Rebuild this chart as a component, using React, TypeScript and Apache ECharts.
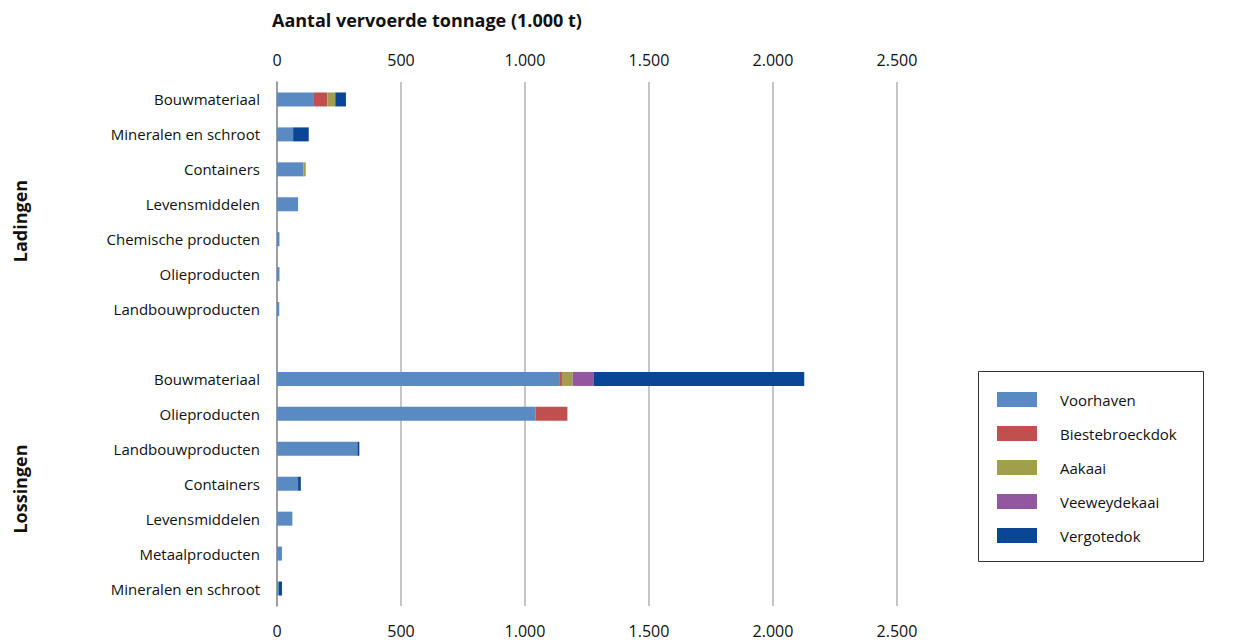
import React, { useEffect, useRef } from "react";
import * as echarts from "echarts";

// Cargo categories per group (top to bottom)
const ladingenCategories = [
  "Bouwmateriaal",
  "Mineralen en schroot",
  "Containers",
  "Levensmiddelen",
  "Chemische producten",
  "Olieproducten",
  "Landbouwproducten",
];
const lossingenCategories = [
  "Bouwmateriaal",
  "Olieproducten",
  "Landbouwproducten",
  "Containers",
  "Levensmiddelen",
  "Metaalproducten",
  "Mineralen en schroot",
];

const seriesNames = ["Voorhaven", "Biestebroeckdok", "Aakaai", "Veeweydekaai", "Vergotedok"];
const seriesColors = ["#5a8ac2", "#c0504d", "#a0a04c", "#9357a0", "#0b4695"];

// Tonnage (1.000 t) per dock, loadings
const ladingenVoorhaven = [149, 65, 106, 85, 10, 10, 9];
const ladingenBiestebroeckdok = [54, 0, 0, 0, 0, 0, 0];
const ladingenAakaai = [32, 0, 10, 0, 0, 0, 0];
const ladingenVeeweydekaai = [0, 0, 0, 0, 0, 0, 0];
const ladingenVergotedok = [43, 63, 0, 0, 0, 0, 0];

// Tonnage (1.000 t) per dock, unloadings
const lossingenVoorhaven = [1138, 1042, 324, 85, 62, 20, 8];
const lossingenBiestebroeckdok = [11, 129, 0, 0, 0, 0, 0];
const lossingenAakaai = [43, 0, 0, 0, 0, 0, 0];
const lossingenVeeweydekaai = [86, 0, 0, 0, 0, 0, 0];
const lossingenVergotedok = [848, 0, 8, 11, 0, 0, 12];

const xTicks = [0, 500, 1000, 1500, 2000, 2500];

const FONT = "'Open Sans', 'Noto Sans', sans-serif";

const formatNl = (v: number) => v.toString().replace(/\B(?=(\d{3})+(?!\d))/g, ".");

export default function App() {
  const ref = useRef<HTMLDivElement>(null);

  useEffect(() => {
    if (!ref.current) return;
    const chart = echarts.init(ref.current, null, { renderer: "svg" });

    const categories = [...ladingenCategories, "", ...lossingenCategories];
    const lad = [ladingenVoorhaven, ladingenBiestebroeckdok, ladingenAakaai, ladingenVeeweydekaai, ladingenVergotedok];
    const los = [lossingenVoorhaven, lossingenBiestebroeckdok, lossingenAakaai, lossingenVeeweydekaai, lossingenVergotedok];

    const series = seriesNames.map((name, i) => ({
      name,
      type: "bar" as const,
      stack: "total",
      barWidth: 14,
      itemStyle: { color: seriesColors[i] },
      data: [...lad[i], null, ...los[i]].map((v) => (v === 0 ? null : v)),
    }));

    const xAxisBase = {
      type: "value" as const,
      min: xTicks[0],
      max: xTicks[xTicks.length - 1],
      interval: 500,
      axisLine: { show: false },
      axisTick: { show: false },
      axisLabel: {
        fontFamily: FONT,
        fontSize: 16,
        color: "#111",
        formatter: (v: number) => formatNl(v),
      },
    };

    chart.setOption({
      animation: false,
      backgroundColor: "#fff",
      grid: { left: 277, right: 340, top: 82, bottom: 38, containLabel: false },
      xAxis: [
        {
          ...xAxisBase,
          position: "top",
          axisLabel: { ...xAxisBase.axisLabel, margin: 14 },
          splitLine: { show: true, lineStyle: { color: "#b3b3b3", width: 1.5 } },
        },
        {
          ...xAxisBase,
          position: "bottom",
          axisLabel: { ...xAxisBase.axisLabel, margin: 17 },
          splitLine: { show: false },
        },
      ],
      yAxis: {
        type: "category",
        inverse: true,
        data: categories,
        axisLine: { show: true, lineStyle: { color: "#909090", width: 1.5 } },
        axisTick: { show: false },
        axisLabel: { fontFamily: FONT, fontSize: 15, color: "#111", margin: 17 },
      },
      legend: {
        orient: "vertical",
        left: 997,
        top: 392,
        padding: 0,
        itemWidth: 40,
        itemHeight: 15,
        itemGap: 19,
        icon: "rect",
        data: seriesNames,
        textStyle: { fontFamily: FONT, fontSize: 15, color: "#111", padding: [0, 0, 0, 18], lineHeight: 15 },
      },
      graphic: [
        {
          type: "rect",
          shape: { x: 978.5, y: 371.5, width: 225, height: 190 },
          style: { fill: "none", stroke: "#333", lineWidth: 1 },
          silent: true,
        },
        {
          type: "text",
          x: 272,
          y: 11,
          style: {
            text: "Aantal vervoerde tonnage (1.000 t)",
            font: `bold 18px ${FONT}`,
            fill: "#111",
          },
        },
        {
          type: "text",
          x: 20,
          y: 221,
          rotation: Math.PI / 2,
          style: {
            text: "Ladingen",
            font: `bold 18px ${FONT}`,
            fill: "#111",
            align: "center",
            verticalAlign: "middle",
          },
        },
        {
          type: "text",
          x: 20,
          y: 489,
          rotation: Math.PI / 2,
          style: {
            text: "Lossingen",
            font: `bold 18px ${FONT}`,
            fill: "#111",
            align: "center",
            verticalAlign: "middle",
          },
        },
      ],
      series,
    });

    return () => chart.dispose();
  }, []);

  return (
    <div
      ref={ref}
      style={{ position: "fixed", left: 0, top: 0, width: 1237, height: 644 }}
    />
  );
}
